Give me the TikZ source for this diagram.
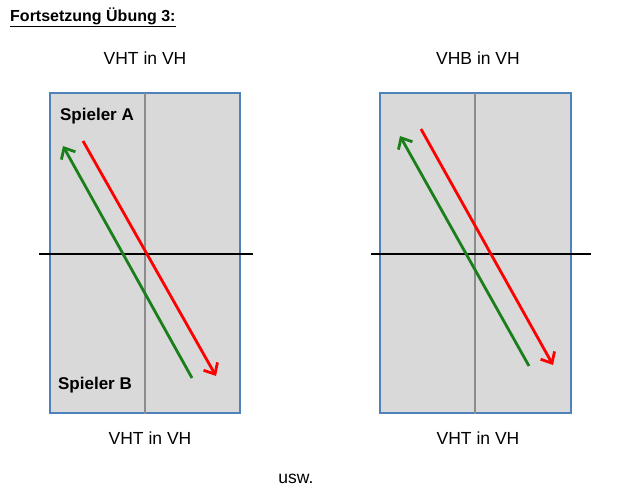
\documentclass[tikz,border=0pt]{standalone}
\usepackage{fontspec}
\setmainfont{Liberation Sans}
\usetikzlibrary{arrows.meta}
\definecolor{tablefill}{HTML}{D9D9D9}
\definecolor{tableedge}{HTML}{4F81BD}
\definecolor{midline}{HTML}{8C8C8C}
\definecolor{redarrow}{HTML}{FF0000}
\definecolor{greenarrow}{HTML}{1A7F1A}
\tikzset{
  tablebox/.style={fill=tablefill, draw=tableedge, line width=1.5pt},
  centerline/.style={draw=midline, line width=1.5pt},
  netline/.style={draw=black, line width=1.6pt},
  ballred/.style={draw=redarrow, line width=2.8pt, -{Straight Barb[length=9pt,width=16pt,line width=2.8pt]}},
  ballgreen/.style={draw=greenarrow, line width=2.8pt, -{Straight Barb[length=9pt,width=16pt,line width=2.8pt]}},
  lbl/.style={inner sep=0pt, font=\fontsize{17.5}{20}\selectfont},
  blbl/.style={inner sep=0pt, font=\fontsize{17}{20}\selectfont\bfseries},
}
\begin{document}
\begin{tikzpicture}[x=1pt,y=-1pt]
\useasboundingbox (0,0) rectangle (640,500);
% title
\node[inner sep=0pt, anchor=west, font=\fontsize{16}{19}\selectfont\bfseries] (title) at (10,17) {\underline{Fortsetzung Übung 3:}};
% left table
\draw[tablebox] (50,93) rectangle (240,413);
\coordinate (lct) at (145,93); \coordinate (lcb) at (145,414);
\draw[centerline] (lct) -- (lcb);
\coordinate (lnl) at (39,254); \coordinate (lnr) at (253,254);
\draw[netline] (lnl) -- (lnr);
\coordinate (lrs) at (83,141); \coordinate (lre) at (216,376);
\coordinate (lgs) at (192,378); \coordinate (lge) at (63,146);
\draw[ballred] (lrs) -- (lre);
\draw[ballgreen] (lgs) -- (lge);
\node[blbl] (spa) at (97,116) {Spieler A};
\node[blbl] (spb) at (95,385) {Spieler B};
\node[lbl] (ltop) at (145,58) {VHT in VH};
\node[lbl] (lbot) at (150,438) {VHT in VH};
% right table
\draw[tablebox] (380,93) rectangle (571,413);
\coordinate (rct) at (475,93); \coordinate (rcb) at (475,414);
\draw[centerline] (rct) -- (rcb);
\coordinate (rnl) at (371,254); \coordinate (rnr) at (591,254);
\draw[netline] (rnl) -- (rnr);
\coordinate (rrs) at (421,129); \coordinate (rre) at (553,365);
\coordinate (rgs) at (529,366); \coordinate (rge) at (400,136);
\draw[ballred] (rrs) -- (rre);
\draw[ballgreen] (rgs) -- (rge);
\node[lbl] (rtop) at (478,58) {VHB in VH};
\node[lbl] (rbot) at (478,438) {VHT in VH};
\node[lbl] (usw) at (296,479) {usw.};
\end{tikzpicture}
\end{document}
